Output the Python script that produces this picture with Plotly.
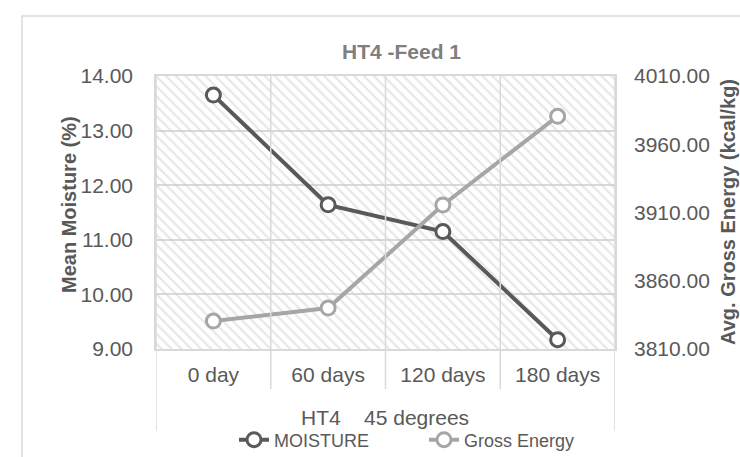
import plotly.graph_objects as go

categories = ["0 day", "60 days", "120 days", "180 days"]
moisture = [13.65, 11.64, 11.15, 9.17]
gross_energy = [3830.5, 3840.0, 3915.5, 3980.5]
left_ticks = [9, 10, 11, 12, 13, 14]
right_ticks = [3810, 3860, 3910, 3960, 4010]

W, H = 740, 457
L, R, T, B = 156, 615, 76, 349
pw, ph = R - L, B - T

def px(xp):
    return (xp - L) / pw

def py(yp):
    return (B - yp) / ph

xs = list(range(len(categories)))
font = "Liberation Sans, Arial, sans-serif"
grid = "#d9d9d9"
txt = "#595959"
FS = 21

fig = go.Figure()
# hatched plot-area background, spanning the axis ranges
fig.add_trace(go.Scatter(
    x=[-0.5, 3.5, 3.5, -0.5, -0.5], y=[left_ticks[0], left_ticks[0], left_ticks[-1], left_ticks[-1], left_ticks[0]],
    fill="toself", mode="none", fillcolor="rgba(0,0,0,0)",
    fillpattern=dict(shape="\\", fgcolor="#cccccc", bgcolor="rgba(0,0,0,0)", size=7, solidity=0.28),
    showlegend=False, hoverinfo="skip"))
fig.add_trace(go.Scatter(
    x=xs, y=moisture, name="MOISTURE", mode="lines+markers",
    line=dict(color="#595959", width=4),
    marker=dict(symbol="circle", size=14, color="white", line=dict(color="#595959", width=3))))
fig.add_trace(go.Scatter(
    x=xs, y=gross_energy, name="Gross Energy", mode="lines+markers", yaxis="y2",
    line=dict(color="#a6a6a6", width=4),
    marker=dict(symbol="circle", size=14, color="white", line=dict(color="#a6a6a6", width=3))))

shapes = []
for b in [0.5, 1.5, 2.5]:
    shapes.append(dict(type="line", xref="x", yref="paper", x0=b, x1=b, y0=py(389), y1=1,
                       line=dict(color=grid, width=1.5)))
for b in [-0.5, 3.5]:
    shapes.append(dict(type="line", xref="x", yref="paper", x0=b, x1=b, y0=py(431), y1=1,
                       line=dict(color=grid, width=1.5)))
# chart area border
shapes.append(dict(type="rect", xref="paper", yref="paper", x0=px(22), x1=px(760), y0=py(480), y1=py(16),
                   line=dict(color="#d9d9d9", width=1.5), fillcolor="rgba(0,0,0,0)", layer="below"))

annotations = [
    dict(text="<b>HT4 -Feed 1</b>", x=px(401), y=py(51), xref="paper", yref="paper", yanchor="middle",
         showarrow=False, font=dict(family=font, size=21, color="#7f7f7f")),
    dict(text="<b>Mean Moisture (%)</b>", x=px(56), y=py(205), xref="paper", yref="paper",
         showarrow=False, textangle=-90, font=dict(family=font, size=20, color=txt)),
    dict(text="<b>Avg. Gross Energy (kcal/kg)</b>", x=px(741), y=py(212), xref="paper", yref="paper",
         showarrow=False, textangle=-90, font=dict(family=font, size=20, color=txt)),
    dict(text="HT4    45 degrees", x=px(385), y=py(417), xref="paper", yref="paper", yanchor="middle",
         showarrow=False, font=dict(family=font, size=FS, color=txt)),
]

fig.update_layout(
    width=W, height=H,
    margin=dict(l=L, r=W - R, t=T, b=H - B, pad=0, autoexpand=False),
    paper_bgcolor="white", plot_bgcolor="white",
    font=dict(family=font, color=txt),
    xaxis=dict(range=[-0.5, 3.5], tickvals=xs, ticktext=categories, showgrid=False,
               zeroline=False, showline=True, linecolor=grid, linewidth=1.5, mirror=True,
               ticks="", ticklabelstandoff=6, tickfont=dict(size=FS, color=txt), fixedrange=True),
    yaxis=dict(range=[left_ticks[0], left_ticks[-1]], tickvals=left_ticks,
               ticktext=[f"{v:.2f}" for v in left_ticks], showgrid=True, gridcolor=grid, gridwidth=1.5,
               zeroline=False, showline=True, linecolor=grid, linewidth=1.5, mirror=True,
               ticks="", ticklabelstandoff=17, tickfont=dict(size=FS, color=txt)),
    yaxis2=dict(range=[right_ticks[0], right_ticks[-1]], tickvals=right_ticks,
                ticktext=[f"{v:.2f}" for v in right_ticks], overlaying="y", side="right",
                showgrid=False, zeroline=False, showline=False, ticks="", ticklabelstandoff=18,
                tickfont=dict(size=FS, color=txt)),
    legend=dict(orientation="h", x=px(234), y=py(440), xanchor="left", yanchor="middle",
                font=dict(family=font, size=18, color=txt), bgcolor="rgba(0,0,0,0)",
                entrywidth=145, entrywidthmode="pixels", tracegroupgap=0),
    shapes=shapes, annotations=annotations, showlegend=True,
)

fig.write_html("out.html")
